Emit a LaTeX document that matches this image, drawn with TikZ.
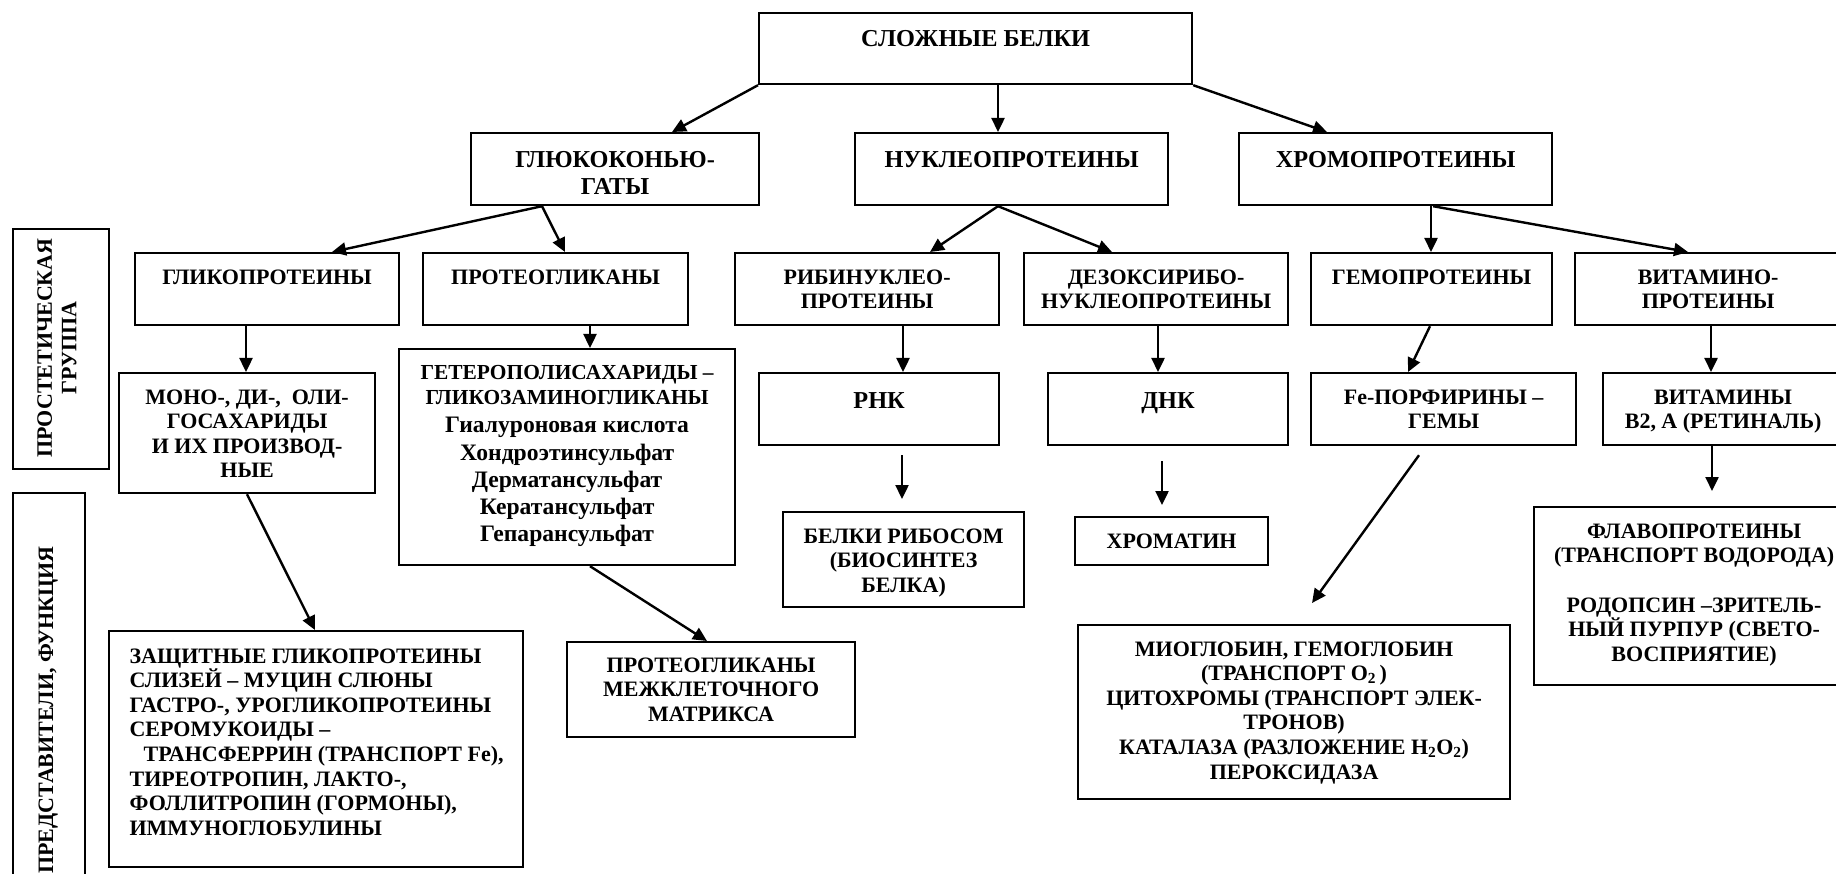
\documentclass[tikz,border=0pt]{standalone}
\usepackage{fontspec}
\setmainfont{Liberation Serif}
\usetikzlibrary{arrows.meta,calc}
\newcommand{\bt}[4]{\parbox[c][#2pt][t]{#1pt}{\centering\rule{0pt}{#3pt}#4}}
\begin{document}
\begin{tikzpicture}[x=1pt,y=-1pt,
  bxs/.style={draw, line width=2.2pt, inner sep=0pt, anchor=north west},
  arr/.style={line width=2.4pt, -{Triangle[length=14pt,width=13pt]}},
  fs/.style={font=\fontsize{22}{24.6}\selectfont\bfseries},
  fh/.style={font=\fontsize{21.4}{25}\selectfont\bfseries},
  fb/.style={font=\fontsize{24.3}{26.7}\selectfont\bfseries}]
\fill[white] (0,0) rectangle (1836,874);
\path[use as bounding box] (0,0) rectangle (1836,874);

% row 1-2
\node[bxs,fb] (top) at (758,12) {\bt{433}{71}{33}{СЛОЖНЫЕ БЕЛКИ}};
\node[bxs,fb] (glu) at (470,132) {\bt{288}{72}{34.7}{ГЛЮКОКОНЬЮ-\\ГАТЫ}};
\node[bxs,fb] (nuc) at (854,132) {\bt{313}{72}{34.7}{НУКЛЕОПРОТЕИНЫ}};
\node[bxs,fb] (chr) at (1238,132) {\bt{313}{72}{34.7}{ХРОМОПРОТЕИНЫ}};
% row 3
\node[bxs,fs] (glp) at (134,252) {\bt{264}{72}{31.3}{ГЛИКОПРОТЕИНЫ}};
\node[bxs,fs] (prg) at (422,252) {\bt{265}{72}{31.3}{ПРОТЕОГЛИКАНЫ}};
\node[bxs,fs] (rnp) at (734,252) {\bt{264}{72}{31.3}{РИБИНУКЛЕО-\\ПРОТЕИНЫ}};
\node[bxs,fs] (dnp) at (1023,252) {\bt{264}{72}{31.3}{ДЕЗОКСИРИБО-\\НУКЛЕОПРОТЕИНЫ}};
\node[bxs,fs] (hem) at (1310,252) {\bt{241}{72}{31.3}{ГЕМОПРОТЕИНЫ}};
\node[bxs,fs] (vit) at (1574,252) {\bt{266}{72}{31.3}{ВИТАМИНО-\\ПРОТЕИНЫ}};
% row 4
\node[bxs,fs] (mono) at (118,372) {\bt{256}{120}{31}{МОНО-, ДИ-, \ ОЛИ-\\ГОСАХАРИДЫ\\И ИХ ПРОИЗВОД-\\НЫЕ}};
\node[bxs,fh] (het) at (398,348) {\bt{336}{216}{30.3}{ГЕТЕРОПОЛИСАХАРИДЫ –\\ГЛИКОЗАМИНОГЛИКАНЫ\\[1pt]\fontsize{23.6}{27.3}\selectfont Гиалуроновая кислота\\Хондроэтинсульфат\\Дерматансульфат\\Кератансульфат\\Гепарансульфат}};
\node[bxs,fb] (rna) at (758,372) {\bt{240}{72}{35}{РНК}};
\node[bxs,fb] (dna) at (1047,372) {\bt{240}{72}{35}{ДНК}};
\node[bxs,fs] (fe) at (1310,372) {\bt{265}{72}{31}{Fe-ПОРФИРИНЫ –\\ГЕМЫ}};
\node[bxs,fs] (vtm) at (1602,372) {\bt{240}{72}{31}{ВИТАМИНЫ\\B2, А (РЕТИНАЛЬ)}};
% row 5
\node[bxs,fs] (rib) at (782,511) {\bt{241}{95}{31}{БЕЛКИ РИБОСОМ\\(БИОСИНТЕЗ\\БЕЛКА)}};
\node[bxs,fs] (chrm) at (1074,516) {\bt{193}{48}{31}{ХРОМАТИН}};
\node[bxs,fs] (flv) at (1533,506) {\parbox[c][178pt][t]{320pt}{\centering\rule{0pt}{31pt}ФЛАВОПРОТЕИНЫ\\(ТРАНСПОРТ ВОДОРОДА)\\[25pt]РОДОПСИН –ЗРИТЕЛЬ-\\НЫЙ ПУРПУР (СВЕТО-\\ВОСПРИЯТИЕ)}};
\node[bxs,fs] (prot) at (108,630) {\parbox[c][236pt][t]{414pt}{\raggedright\leftskip=20.5pt\rule{0pt}{32pt}ЗАЩИТНЫЕ ГЛИКОПРОТЕИНЫ\\СЛИЗЕЙ – МУЦИН СЛЮНЫ\\ГАСТРО-, УРОГЛИКОПРОТЕИНЫ\\СЕРОМУКОИДЫ –\\\hspace*{14pt}ТРАНСФЕРРИН (ТРАНСПОРТ Fe),\\ТИРЕОТРОПИН, ЛАКТО-,\\ФОЛЛИТРОПИН (ГОРМОНЫ),\\ИММУНОГЛОБУЛИНЫ}};
\node[bxs,fs] (pgm) at (566,641) {\bt{288}{95}{30}{ПРОТЕОГЛИКАНЫ\\МЕЖКЛЕТОЧНОГО\\МАТРИКСА}};
\node[bxs,fs] (mio) at (1077,624) {\bt{432}{174}{31}{МИОГЛОБИН, ГЕМОГЛОБИН\\(ТРАНСПОРТ O\textsubscript{2}\,)\\ЦИТОХРОМЫ (ТРАНСПОРТ ЭЛЕК-\\ТРОНОВ)\\КАТАЛАЗА (РАЗЛОЖЕНИЕ H\textsubscript{2}O\textsubscript{2})\\ПЕРОКСИДАЗА}};
% side labels
\node[bxs, minimum width=96pt, minimum height=240pt] (side1) at (12,228) {};
\node[bxs, minimum width=72pt, minimum height=400pt] (side2) at (12,492) {};
\node[fs, rotate=90, anchor=north, align=center, inner sep=0pt] (side1t) at (37,348) {ПРОСТЕТИЧЕСКАЯ\\ГРУППА};
\node[fs, rotate=90, anchor=base, inner sep=0pt] (side2t) at (53,710) {ПРЕДСТАВИТЕЛИ, ФУНКЦИЯ};

% connectors
\draw[arr] (top.south west) -- ($(glu.north west)+(202,0)$);
\draw[arr] ($(top.south west)+(240,0)$) -- ($(nuc.north west)+(144,0)$);
\draw[arr] (top.south east) -- ($(chr.north west)+(89,0)$);
\draw[arr] ($(glu.south west)+(72,0)$) -- ($(glp.north west)+(198,0)$);
\draw[arr] ($(glu.south west)+(72,0)$) -- ($(prg.north west)+(143,0)$);
\draw[arr] ($(nuc.south west)+(144,0)$) -- ($(rnp.north west)+(196,0)$);
\draw[arr] ($(nuc.south west)+(144,0)$) -- ($(dnp.north west)+(89,0)$);
\draw[arr] ($(chr.south west)+(193,0)$) -- ($(hem.north west)+(121,0)$);
\draw[arr] ($(chr.south west)+(195,0)$) -- ($(vit.north west)+(114,0)$);
\draw[arr] ($(glp.south west)+(112,0)$) -- ($(mono.north west)+(128,0)$);
\draw[arr] ($(prg.south west)+(168,0)$) -- ($(het.north west)+(192,0)$);
\draw[arr] ($(rnp.south west)+(169,0)$) -- ($(rna.north west)+(145,0)$);
\draw[arr] ($(dnp.south west)+(135,0)$) -- ($(dna.north west)+(111,0)$);
\draw[arr] ($(hem.south west)+(120,0)$) -- ($(fe.north west)+(98,0)$);
\draw[arr] ($(vit.south west)+(137,0)$) -- ($(vtm.north west)+(109,0)$);
\draw[arr] ($(mono.south west)+(129,0)$) -- ($(prot.north west)+(207,0)$);
\draw[arr] ($(het.south west)+(192,0)$) -- ($(pgm.north west)+(141,0)$);
\draw[arr] ($(rna.south west)+(144,9)$) -- ($(rib.north west)+(120,-12)$);
\draw[arr] ($(dna.south west)+(115,15)$) -- ($(chrm.north west)+(88,-11)$);
\draw[arr] ($(fe.south west)+(109,9)$) -- ($(mio.north west)+(235,-21)$);
\draw[arr] ($(vtm.south west)+(110,0)$) -- ($(flv.north west)+(179,-15)$);
\end{tikzpicture}
\end{document}
